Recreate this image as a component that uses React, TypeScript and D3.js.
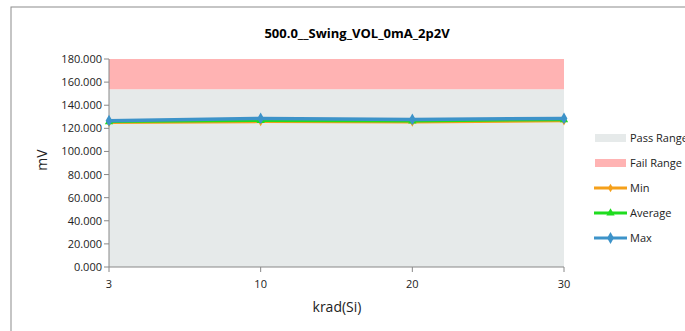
import React from 'react';
import * as d3 from 'd3';

const categories = ['3', '10', '20', '30'];
const minValues = [124.9, 125.6, 125.2, 126.3];
const avgValues = [125.6, 126.6, 126.2, 127.3];
const maxValues = [126.6, 128.6, 127.7, 128.6];
const passRange = [0, 153.8];
const failRange = [153.8, 180];
const yTicks = [0, 20, 40, 60, 80, 100, 120, 140, 160, 180];

const series = [
  { name: 'Min', values: minValues, color: '#f5a01a', marker: 'diamond', size: 22 },
  { name: 'Average', values: avgValues, color: '#1fdc1f', marker: 'triangle', size: 30 },
  { name: 'Max', values: maxValues, color: '#3d93c9', marker: 'diamond', size: 40 },
];

const W = 685;
const H = 331;
const left = 109;
const right = 564;
const top = 59;
const bottom = 267;
const font = 'Open Sans, Noto Sans, sans-serif';

export default function App() {
  const x = d3.scalePoint<string>().domain(categories).range([left, right]);
  const y = d3.scaleLinear().domain([0, 180]).range([bottom, top]);

  const line = d3
    .line<number>()
    .x((_, i) => x(categories[i]) as number)
    .y((d) => y(d));

  const symbolPath = (kind: string, size: number) =>
    d3.symbol().type(kind === 'triangle' ? d3.symbolTriangle : d3.symbolDiamond).size(size)() as string;

  const legendY = [138, 163, 188, 213, 238];

  return (
    <svg width={W} height={H} style={{ position: 'absolute', left: 0, top: 0 }} fontFamily={font}>
      <rect x={0} y={0} width={W} height={H} fill="#fff" />
      <rect x={11} y={7} width={W} height={H} fill="none" stroke="#8c8c8c" strokeWidth={1} />

      <text x={357} y={38} textAnchor="middle" fontSize={13} fontWeight="bold" fill="#000">
        500.0__Swing_VOL_0mA_2p2V
      </text>

      {/* ranges */}
      <rect x={left} y={y(passRange[1])} width={right - left} height={y(passRange[0]) - y(passRange[1])} fill="#e6eaea" />
      <rect x={left} y={y(failRange[1])} width={right - left} height={y(failRange[0]) - y(failRange[1])} fill="#ffb3b3" />

      {/* y axis */}
      <line x1={left} x2={left} y1={top} y2={bottom} stroke="#888" />
      {yTicks.map((t) => (
        <g key={t}>
          <line x1={left - 5} x2={left} y1={y(t)} y2={y(t)} stroke="#888" />
          <text x={left - 7} y={y(t) + 4} textAnchor="end" fontSize={11} fill="#222">
            {t.toFixed(3)}
          </text>
        </g>
      ))}

      {/* x axis */}
      <line x1={left} x2={right} y1={bottom} y2={bottom} stroke="#888" />
      {categories.map((c) => (
        <g key={c}>
          <line x1={x(c)} x2={x(c)} y1={bottom} y2={bottom + 5} stroke="#888" />
          <text x={x(c)} y={288} textAnchor="middle" fontSize={11} fill="#222">
            {c}
          </text>
        </g>
      ))}

      <text x={337} y={312} textAnchor="middle" fontSize={14} fill="#222">
        krad(Si)
      </text>
      <text transform="translate(47,160) rotate(-90)" textAnchor="middle" fontSize={14} fill="#222">
        mV
      </text>

      {/* series */}
      {series.map((s) => (
        <g key={s.name}>
          <path d={line(s.values) as string} fill="none" stroke={s.color} strokeWidth={s.name === 'Max' ? 3.5 : 2.5} />
          {s.values.map((v, i) => (
            <path
              key={i}
              d={symbolPath(s.marker, s.size)}
              transform={`translate(${x(categories[i])},${y(v)})`}
              fill={s.color}
            />
          ))}
        </g>
      ))}

      {/* legend */}
      <rect x={595} y={legendY[0] - 4} width={31} height={8} fill="#e6eaea" />
      <text x={630} y={legendY[0] + 4} fontSize={11} fill="#222">Pass Range</text>
      <rect x={595} y={legendY[1] - 4} width={31} height={8} fill="#ffb3b3" />
      <text x={630} y={legendY[1] + 4} fontSize={11} fill="#222">Fail Range</text>
      {series.map((s, i) => (
        <g key={s.name}>
          <line x1={594} x2={627} y1={legendY[i + 2]} y2={legendY[i + 2]} stroke={s.color} strokeWidth={3} />
          <path d={symbolPath(s.marker, s.size)} transform={`translate(610.5,${legendY[i + 2]})`} fill={s.color} />
          <text x={630} y={legendY[i + 2] + 4} fontSize={11} fill="#222">
            {s.name}
          </text>
        </g>
      ))}
    </svg>
  );
}
